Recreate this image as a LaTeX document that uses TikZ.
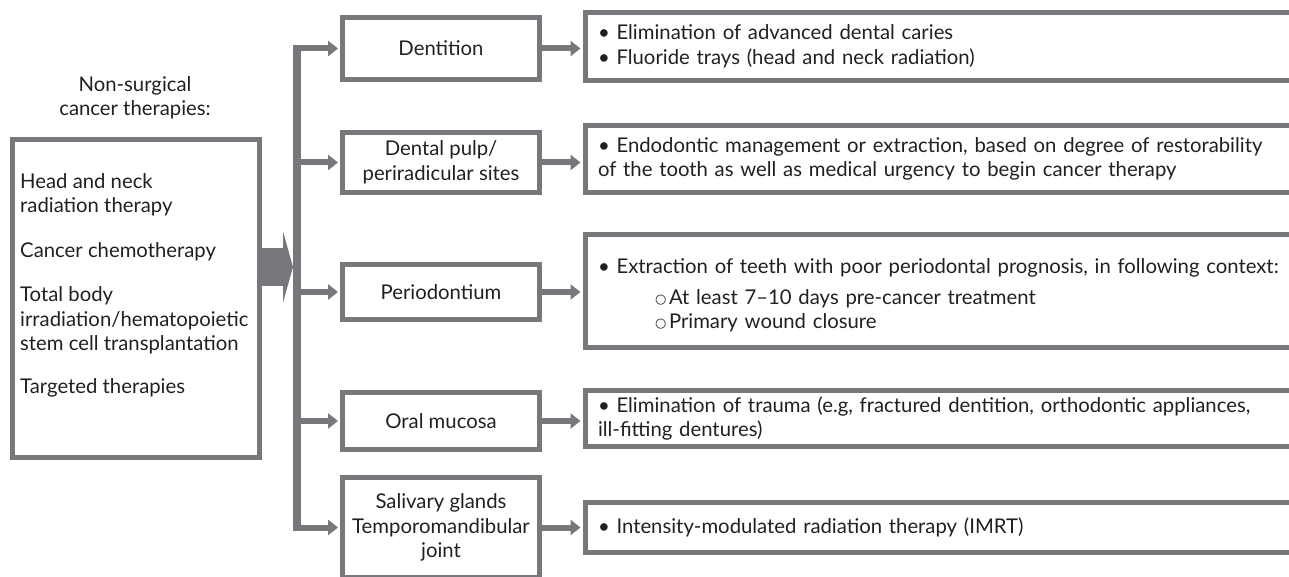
\documentclass[tikz,border=0pt]{standalone}
\usepackage{fontspec}
\setmainfont{Lato}
\newfontfamily\symfont{DejaVu Sans}
\usepackage{xcolor}
\usetikzlibrary{arrows.meta}
\definecolor{linegray}{RGB}{119,120,124}
\definecolor{ink}{RGB}{35,31,32}
\def \bul {\textbullet\ }
\def \subbul {\makebox[71pt][r]{\raisebox{1pt}{\symfont\fontsize{13}{13}\selectfont ○}\hspace{2.5pt}}}

\begin{document}
\begin{tikzpicture}[x=1pt,y=-1pt,font=\fontsize{20.3}{24.5}\selectfont,color=ink]
\tikzstyle{box}=[draw=linegray,line width=5pt,inner sep=0pt]
\tikzstyle{site}=[box,minimum width=197pt,align=center]
\tikzstyle{note}=[box,anchor=west,minimum width=720pt,text width=694pt,align=left]
\tikzstyle{branch}=[draw=linegray,line width=6pt,shorten >=2pt,-{Triangle[length=10pt,width=15pt]}]
\useasboundingbox (0,0) rectangle (1289,577);
\clip (0,0) rectangle (1289,577);

\node[align=center] (h) at (135,98) {Non-surgical\\cancer therapies:};
\node[box,minimum width=247pt,minimum height=318pt] (0) at (136,298.5) {};
\node[anchor=north west,align=left,inner sep=0pt] (list) at (20,173) {Head and neck\\radiation therapy\\[20pt]Cancer chemotherapy\\[20pt]Total body\\irradiation/hematopoietic\\stem cell transplantation\\[18pt]Targeted therapies};

\node[site,minimum height=62pt] (1) at (441,48.5) {Dentition};
\node[site,minimum height=60pt] (2) at (441,162.5) {Dental pulp/\\periradicular sites};
\node[site,minimum height=55pt] (3) at (441,292) {Periodontium};
\node[site,minimum height=57pt] (4) at (441,421) {Oral mucosa};
\node[site,minimum height=100pt] (5) at (441,527.5) {Salivary glands\\Temporomandibular\\joint};

\node[note,minimum height=68pt] (11) at (582.5,46.5) {\bul Elimination of advanced dental caries\\\bul Fluoride trays (head and neck radiation)};
\node[note,minimum height=67pt] (12) at (582.5,159) {\bul Endodontic management or extraction, based on degree of restorability\\of the tooth as well as medical urgency to begin cancer therapy};
\node[note,minimum height=113pt,text depth=50pt] (13) at (582.5,291) {\bul Extraction of teeth with poor periodontal prognosis, in following context:\\[6.5pt]\subbul At least 7–10 days pre-cancer treatment\\\subbul Primary wound closure};
\node[note,minimum height=56pt] (14) at (582.5,418.5) {\bul Elimination of trauma (e.g, fractured dentition, orthodontic appliances,\\ill-fitting dentures)};
\node[note,minimum height=50pt] (15) at (582.5,527.5) {\bul Intensity-modulated radiation therapy (IMRT)};

% fat arrow into the trunk
\coordinate (fork) at (293,267);
\draw[draw=linegray,line width=38pt,-{Triangle[length=10pt,width=71pt]}] (0.east |- fork) -- (fork);
\coordinate (bar) at (297,0);
\draw[draw=linegray,line width=8pt] ([yshift=3pt]bar |- 1.west) -- ([yshift=-3pt]bar |- 5.west);
\foreach \i in {1,...,5}
  \draw[branch] (bar |- \i.west) -- (\i.west);
\foreach \i/\j in {1/11,2/12,3/13,4/14,5/15}
  \draw[branch] (\i.east) -- (\j.west |- \i.east);
\end{tikzpicture}
\end{document}
